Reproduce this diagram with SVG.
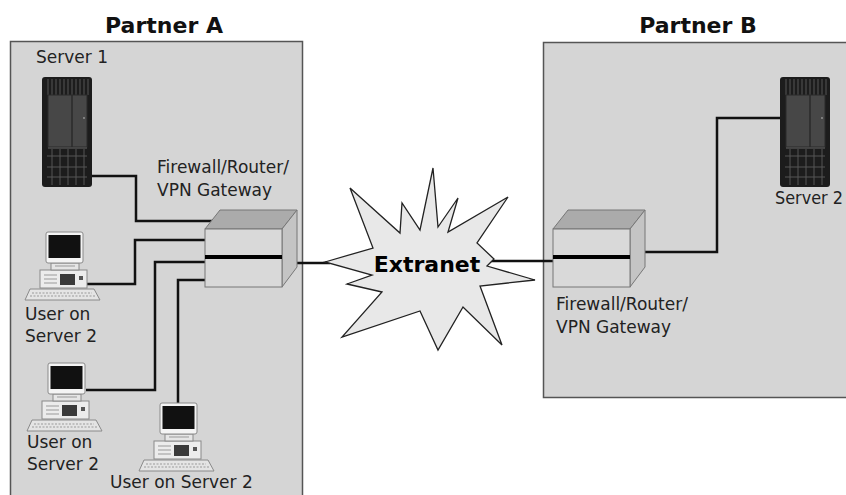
<svg xmlns="http://www.w3.org/2000/svg" xmlns:xlink="http://www.w3.org/1999/xlink" width="846" height="495" viewBox="0 0 846 495">
  <style>
    .panel { fill: #d5d5d5; stroke: #555; stroke-width: 1.5; }
    .title { font-family: "DejaVu Sans", "Liberation Sans", sans-serif; font-weight: bold; font-size: 22px; fill: #111; }
    .lbl { font-family: "DejaVu Sans", "Liberation Sans", sans-serif; font-size: 17px; fill: #222; }
    .star-text { font-family: "DejaVu Sans", "Liberation Sans", sans-serif; font-weight: bold; font-size: 22px; fill: #000; }
    .wire { fill: none; stroke: #111; stroke-width: 2.5; }
  </style>
  <defs>
    <!-- tower server, 50 x 110 -->
    <g id="server">
      <rect x="0" y="0" width="50" height="110" rx="3" fill="#1c1c1c"/>
      <g stroke="#555" stroke-width="1">
        <path d="M6 2V18M10 2V18M14 2V18M18 2V18M22 2V18M26 2V18M30 2V18M34 2V18M38 2V18M42 2V18M46 2V18"/>
        <path d="M10 72V108M18 72V108M26 72V108M34 72V108M42 72V108"/>
        <path d="M5 79H45M5 90H45M5 100H45"/>
      </g>
      <rect x="6" y="18" width="39" height="52" fill="#474747" stroke="#2a2a2a" stroke-width="1"/>
      <line x1="30" y1="18" x2="30" y2="70" stroke="#2a2a2a" stroke-width="1.5"/>
      <line x1="6" y1="71" x2="45" y2="71" stroke="#666" stroke-width="1"/>
      <circle cx="42" cy="41" r="0.9" fill="#999"/>
    </g>
    <!-- desktop PC: monitor, system unit, keyboard -->
    <g id="pc">
      <polygon points="-16,57 48,57 54,68 -21,68" fill="#e4e4e4" stroke="#8a8a8a" stroke-width="1"/>
      <path d="M-14 61H46M-16 64H50" stroke="#9a9a9a" stroke-width="1" stroke-dasharray="2 1.5"/>
      <rect x="-6" y="38" width="47" height="18" fill="#ececec" stroke="#8a8a8a" stroke-width="1"/>
      <path d="M-2 43H11M-2 47H11M-2 51H11" stroke="#9a9a9a" stroke-width="1"/>
      <rect x="14" y="42" width="15" height="11" fill="#3a3a3a"/>
      <rect x="33" y="44" width="4" height="4" fill="#555"/>
      <rect x="5" y="31" width="28" height="7" fill="#e6e6e6" stroke="#8a8a8a" stroke-width="1"/>
      <path d="M9 34H29" stroke="#999" stroke-width="1"/>
      <rect x="0" y="0" width="37" height="31" rx="2" fill="#f4f4f4" stroke="#8a8a8a" stroke-width="1"/>
      <rect x="2.5" y="3" width="32" height="23" fill="#111"/>
    </g>
    <!-- firewall/router box: front face origin at its top-left -->
    <g id="fw">
      <polygon points="0,0 77,0 92,-19 15,-19" fill="#ababab" stroke="#777" stroke-width="1"/>
      <polygon points="77,0 92,-19 92,38 77,58" fill="#c4c4c4" stroke="#777" stroke-width="1"/>
      <rect x="0" y="0" width="77" height="58" fill="#d9d9d9" stroke="#777" stroke-width="1"/>
      <line x1="0" y1="28" x2="77" y2="28" stroke="#000" stroke-width="4"/>
    </g>
  </defs>

  <rect width="846" height="495" fill="#ffffff"/>

  <!-- organisation areas -->
  <g id="partner-a">
    <rect class="panel" x="10.5" y="41.5" width="292" height="470"/>
    <text class="title" x="164" y="33" text-anchor="middle">Partner A</text>
  </g>
  <g id="partner-b">
    <rect class="panel" x="543.5" y="42.5" width="320" height="355"/>
    <text class="title" x="698" y="33" text-anchor="middle">Partner B</text>
  </g>

  <!-- cabling -->
  <g id="connectors">
    <path class="wire" d="M92 176H136V221H212"/>
    <path class="wire" d="M87 284H135V240H206"/>
    <path class="wire" d="M86 390H155V262H206"/>
    <path class="wire" d="M178 403V280H206"/>
    <path class="wire" d="M296 263H330"/>
    <path class="wire" d="M490 261H554"/>
    <path class="wire" d="M644 252H717V118H781"/>
  </g>

  <g id="server1">
    <text class="lbl" x="36" y="63">Server 1</text>
    <use xlink:href="#server" href="#server" x="42" y="77"/>
  </g>

  <g id="user1">
    <use xlink:href="#pc" href="#pc" x="46" y="232"/>
    <text class="lbl" x="25" y="320">User on</text>
    <text class="lbl" x="25" y="342">Server 2</text>
  </g>

  <g id="user2">
    <use xlink:href="#pc" href="#pc" x="48" y="363"/>
    <text class="lbl" x="27" y="448">User on</text>
    <text class="lbl" x="27" y="470">Server 2</text>
  </g>

  <g id="user3">
    <use xlink:href="#pc" href="#pc" x="160" y="403"/>
    <text class="lbl" x="110" y="488">User on Server 2</text>
  </g>

  <g id="firewall-a">
    <use xlink:href="#fw" href="#fw" x="205" y="229"/>
    <text class="lbl" x="157" y="173">Firewall/Router/</text>
    <text class="lbl" x="157" y="196">VPN Gateway</text>
  </g>

  <g id="extranet">
    <polygon points="325,262 373,248 350,188 400,233 402,203 420,230 433,168 438,227 458,198 448,232 508,197 477,243 494,259 487,266 535,280 480,286 502,345 463,307 438,350 420,311 342,337 382,292 347,284 372,275" fill="#e8e8e8" stroke="#222" stroke-width="1.3" stroke-linejoin="miter"/>
    <text class="star-text" x="427" y="272" text-anchor="middle">Extranet</text>
  </g>

  <g id="firewall-b">
    <use xlink:href="#fw" href="#fw" x="553" y="229"/>
    <text class="lbl" x="556" y="310">Firewall/Router/</text>
    <text class="lbl" x="556" y="333">VPN Gateway</text>
  </g>

  <g id="server2">
    <use xlink:href="#server" href="#server" x="780" y="77"/>
    <text class="lbl" x="775" y="204" textLength="68" lengthAdjust="spacingAndGlyphs">Server 2</text>
  </g>
</svg>
